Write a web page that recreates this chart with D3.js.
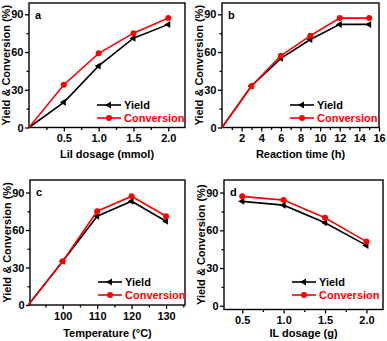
<!DOCTYPE html>
<html>
<head>
<meta charset="utf-8">
<script src="https://cdn.jsdelivr.net/npm/d3@7"></script>
<style>
  body { margin: 0; background: #fff; }
  svg text { font-family: Arial, "Liberation Sans", sans-serif; font-weight: bold; }
</style>
</head>
<body>
<div id="chart"></div>
<script>
// panel a: LiI dosage
var lilDosage = [0, 0.5, 1.0, 1.5, 2.0];
var lilYield = [0, 20, 49, 71, 82];
var lilConversion = [0, 34, 59, 75, 87];

// panel b: reaction time
var reactionTime = [0, 3, 6, 9, 12, 15];
var timeYield = [0, 33, 55, 70, 82, 82];
var timeConversion = [0, 33, 57, 73, 87, 87];

// panel c: temperature
var temperature = [90, 100, 110, 120, 130];
var tempYield = [0, 35, 71, 83, 67];
var tempConversion = [0, 35, 75, 87, 71];

// panel d: IL dosage
var ilDosage = [0.5, 1.0, 1.5, 2.0];
var ilYield = [83, 80, 66, 48];
var ilConversion = [87, 84, 70, 51];

var yTicks = [0, 30, 60, 90];

var panels = [
    { letter: "a", xs: lilDosage, y1: lilYield, y2: lilConversion, title: "LiI dosage (mmol)",
      xDomain: [0, 2.24], xTicks: [0.5, 1.0, 1.5, 2.0], xMinor: [0.25, 0.75, 1.25, 1.75], fmt: d3.format(".1f"),
      yDomain: [0, 99], box: [29, 3, 156, 124.5], titleY: 158 },
    { letter: "b", xs: reactionTime, y1: timeYield, y2: timeConversion, title: "Reaction time (h)",
      xDomain: [0, 16], xTicks: [2, 4, 6, 8, 10, 12, 14, 16], xMinor: [1, 3, 5, 7, 9, 11, 13, 15], fmt: d3.format("d"),
      yDomain: [0, 99], box: [222, 3, 157, 124.5], titleY: 158 },
    { letter: "c", xs: temperature, y1: tempYield, y2: tempConversion, title: "Temperature (\u00B0C)",
      xDomain: [90.5, 135.5], xTicks: [100, 110, 120, 130], xMinor: [95, 105, 115, 125, 135], fmt: d3.format("d"),
      yDomain: [0, 100], box: [30, 180, 155, 125], titleY: 337 },
    { letter: "d", xs: ilDosage, y1: ilYield, y2: ilConversion, title: "IL dosage (g)",
      xDomain: [0.28, 2.2], xTicks: [0.5, 1.0, 1.5, 2.0], xMinor: [0.75, 1.25, 1.75], fmt: d3.format(".1f"),
      yDomain: [-3, 100], box: [224, 180, 159, 129.5], titleY: 337 }
];

var svg = d3.select("#chart").append("svg")
    .attr("width", 387)
    .attr("height", 341);

function drawPanel(p) {
    var bx = p.box[0], by = p.box[1], w = p.box[2], h = p.box[3];
    var g = svg.append("g").attr("transform", "translate(" + bx + "," + by + ")");

    var x = d3.scaleLinear().domain(p.xDomain).range([0, w]);
    var y = d3.scaleLinear().domain(p.yDomain).range([h, 0]);

    // minor ticks
    g.append("g")
        .attr("transform", "translate(0," + h + ")")
        .call(d3.axisBottom(x).tickValues(p.xMinor).tickSize(2.5).tickFormat(""))
        .call(function (s) { s.select(".domain").remove(); });
    g.append("g")
        .call(d3.axisLeft(y).tickValues([15, 45, 75]).tickSize(2.5).tickFormat(""))
        .call(function (s) { s.select(".domain").remove(); });

    var xa = g.append("g")
        .attr("transform", "translate(0," + h + ")")
        .call(d3.axisBottom(x).tickValues(p.xTicks).tickSize(4).tickPadding(3).tickFormat(p.fmt));
    xa.select(".domain").remove();
    xa.selectAll("text").style("font-size", "11px").attr("fill", "#000");

    var ya = g.append("g")
        .call(d3.axisLeft(y).tickValues(yTicks).tickSize(4).tickPadding(1.5));
    ya.select(".domain").remove();
    ya.selectAll("text").style("font-size", "11px").attr("fill", "#000");

    svg.selectAll(".tick line").attr("stroke", "#000").attr("stroke-width", 1.3);

    g.append("rect")
        .attr("width", w).attr("height", h)
        .attr("fill", "none").attr("stroke", "#000").attr("stroke-width", 1.4);

    var series = [
        { vals: p.y1, color: "#000000", marker: "tri" },
        { vals: p.y2, color: "#ff0000", marker: "dot" }
    ];

    var line = d3.line()
        .x(function (d) { return x(d[0]); })
        .y(function (d) { return y(d[1]); });

    series.forEach(function (s) {
        var pts = p.xs.map(function (v, i) { return [v, s.vals[i]]; });
        g.append("path")
            .datum(pts)
            .attr("fill", "none")
            .attr("stroke", s.color)
            .attr("stroke-width", 1.6)
            .attr("d", line);
        drawMarkers(g, pts.slice(1).concat(p.letter === "d" ? [pts[0]] : []), s, x, y);
    });

    // legend
    var lx0 = 68, lx1 = 92, ly = [102, 115];
    series.forEach(function (s, i) {
        g.append("line")
            .attr("x1", lx0).attr("x2", lx1)
            .attr("y1", ly[i]).attr("y2", ly[i])
            .attr("stroke", s.color).attr("stroke-width", 1.6);
        markerAt(g, (lx0 + lx1) / 2, ly[i], s);
        g.append("text")
            .attr("x", lx1 + 3).attr("y", ly[i] + 4)
            .attr("fill", s.color)
            .style("font-size", "11px")
            .text(i === 0 ? "Yield" : "Conversion");
    });

    g.append("text")
        .attr("x", 6).attr("y", 16)
        .style("font-size", "11px")
        .text(p.letter);

    g.append("text")
        .attr("x", w / 2).attr("y", p.titleY - by)
        .attr("text-anchor", "middle")
        .style("font-size", "11px")
        .text(p.title);

    g.append("text")
        .attr("transform", "translate(" + (-19) + "," + (h / 2) + ") rotate(-90)")
        .attr("text-anchor", "middle")
        .style("font-size", "11px")
        .text("Yield & Conversion (%)");
}

function markerAt(g, cx, cy, s) {
    if (s.marker === "dot") {
        g.append("circle").attr("cx", cx).attr("cy", cy).attr("r", 3).attr("fill", s.color);
    } else {
        g.append("path")
            .attr("d", "M" + (cx - 4) + "," + cy + "L" + (cx + 2) + "," + (cy - 3.5) + "L" + (cx + 2) + "," + (cy + 3.5) + "Z")
            .attr("fill", s.color);
    }
}

function drawMarkers(g, pts, s, x, y) {
    pts.forEach(function (d) {
        markerAt(g, x(d[0]), y(d[1]), s);
    });
}

panels.forEach(drawPanel);
</script>
</body>
</html>
